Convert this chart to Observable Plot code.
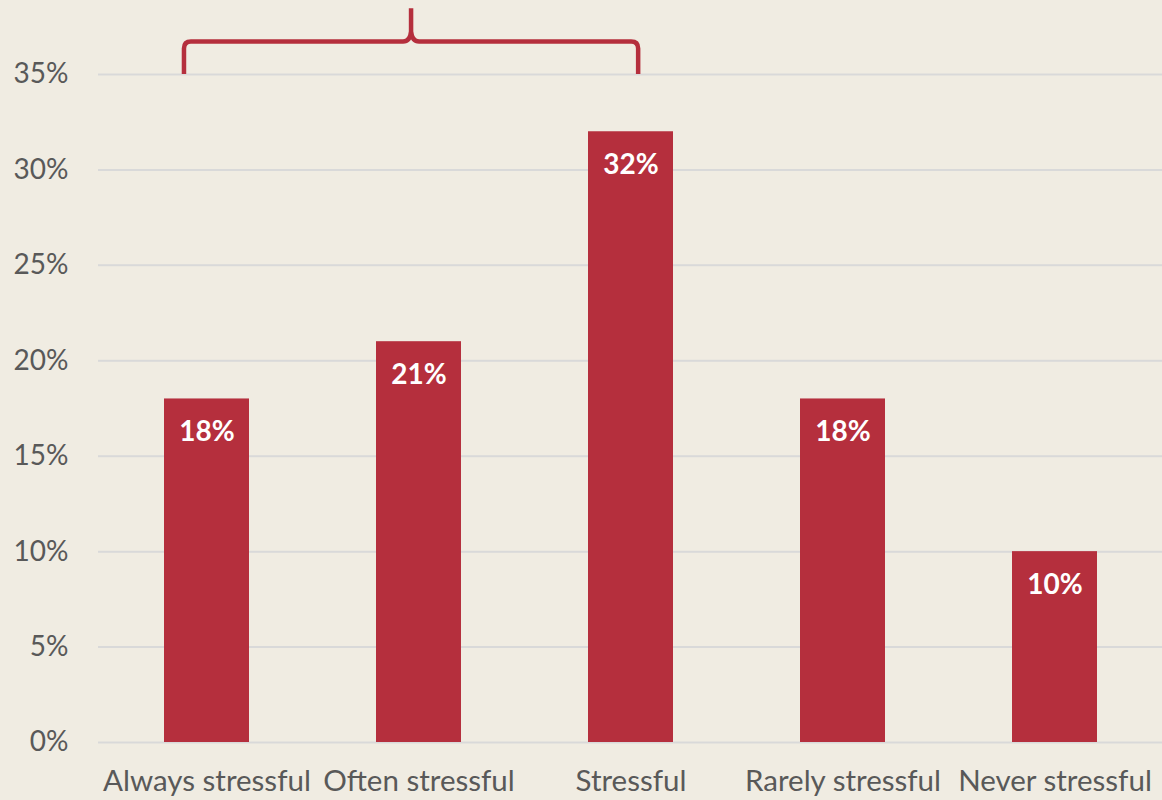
<!DOCTYPE html>
<html>
<head>
<meta charset="utf-8">
<script src="https://cdn.jsdelivr.net/npm/d3@7"></script>
<script src="https://cdn.jsdelivr.net/npm/@observablehq/plot@0.6"></script>
<style>
  html, body { margin: 0; padding: 0; background: #F0ECE2; }
  #chart svg { display: block; background: #F0ECE2; }
</style>
</head>
<body>
<div id="chart"></div>
<script>
const categories = ["Always stressful", "Often stressful", "Stressful", "Rarely stressful", "Never stressful"];
const values = [18, 21, 32, 18, 10];
const yTicks = [0, 5, 10, 15, 20, 25, 30, 35];
const braceFrom = "Always stressful";
const braceTo = "Stressful";

const data = categories.map((c, i) => ({category: c, value: values[i]}));
const red = "#B52F3D";
const textGray = "#595959";
const font = "Lato, 'Open Sans', sans-serif";

function brace(index, scales) {
  const x = scales.x;
  const step = x(categories[1]) - x(categories[0]);
  const bw = typeof x.bandwidth === "function" ? x.bandwidth() : step * 0.4;
  const xl = x(braceFrom) + bw * 0.235;
  const xr = x(braceTo) + bw * 0.59;
  const cx = (xl + xr) / 2;
  const yb = scales.y(35);
  const yh = scales.y(36.7);
  const yt = scales.y(38.45);
  const r = 7;
  const d = `M${xl},${yb} L${xl},${yh + r} Q${xl},${yh} ${xl + r},${yh} L${cx - 8},${yh} Q${cx - 1},${yh} ${cx},${yh - 10} L${cx},${yt} ` +
            `M${cx},${yh - 10} Q${cx + 1},${yh} ${cx + 8},${yh} L${xr - r},${yh} Q${xr},${yh} ${xr},${yh + r} L${xr},${yb}`;
  return d3.create("svg:path")
    .attr("d", d)
    .attr("fill", "none")
    .attr("stroke", red)
    .attr("stroke-width", 4.5)
    .attr("stroke-linejoin", "round")
    .attr("stroke-linecap", "butt")
    .node();
}

const chart = Plot.plot({
  width: 1162,
  height: 800,
  marginTop: 74,
  marginBottom: 58,
  marginLeft: 98,
  marginRight: 0,
  style: {background: "#F0ECE2", fontFamily: font, overflow: "visible"},
  x: {domain: categories, paddingInner: 0.6, paddingOuter: 0.3, label: null},
  y: {domain: [0, 35], label: null},
  marks: [
    Plot.gridY(yTicks, {stroke: "#D9D9D9", strokeOpacity: 1, strokeWidth: 2}),
    Plot.axisY({ticks: yTicks, tickFormat: d => d + "%", tickSize: 0, tickPadding: 30, fontSize: 28, fill: textGray, label: null}),
    Plot.axisX({tickSize: 0, tickPadding: 28, fontSize: 29.5, fill: textGray, label: null}),
    Plot.barY(data, {x: "category", y: "value", fill: red}),
    Plot.text(data, {x: "category", y: "value", text: d => d.value + "%", dy: 33, fill: "white", fontWeight: "bold", fontSize: 28}),
    brace
  ]
});
document.getElementById("chart").appendChild(chart);
</script>
</body>
</html>
